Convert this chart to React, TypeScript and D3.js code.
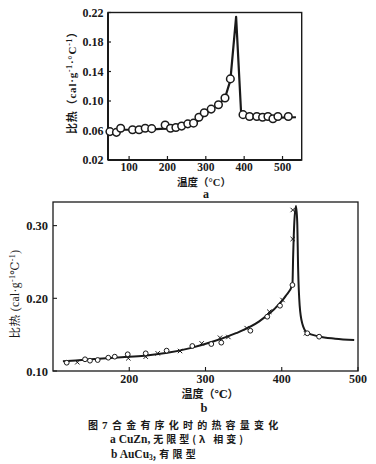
import React from "react";
import * as d3 from "d3";

// ---- Chart a : CuZn ----
const aXTicks = [100, 200, 300, 400, 500];
const aYTicks = [0.02, 0.06, 0.1, 0.14, 0.18, 0.22];
const aPointTemps = [50, 67, 78, 109, 126, 142, 159, 194, 208, 222, 237, 253, 268, 282, 296, 314, 333, 350, 364, 397, 414, 433, 448, 462, 475, 488, 515];
const aPointValues = [0.0585, 0.0575, 0.063, 0.061, 0.061, 0.063, 0.0625, 0.0675, 0.063, 0.064, 0.066, 0.069, 0.07, 0.078, 0.084, 0.089, 0.095, 0.104, 0.13, 0.0815, 0.079, 0.079, 0.078, 0.079, 0.076, 0.079, 0.079];
const aLineTemps = [45, 50, 67, 78, 110, 160, 194, 222, 240, 260, 275, 290, 310, 333, 350, 364, 379, 392, 397, 420, 470, 535];
const aLineValues = [0.058, 0.0585, 0.058, 0.061, 0.061, 0.0615, 0.0625, 0.063, 0.065, 0.068, 0.071, 0.078, 0.087, 0.095, 0.104, 0.128, 0.214, 0.084, 0.0815, 0.078, 0.077, 0.078];

// ---- Chart b : AuCu3 ----
const bXTicks = [200, 300, 400, 500];
const bYTicks = [0.1, 0.2, 0.3];
const bCircleTemps = [118, 142, 148.5, 158.6, 172.5, 181, 198, 221.6, 249, 282.7, 307.6, 320.7, 358.8, 381, 397.7, 414, 433.5, 449];
const bCircleValues = [0.1114, 0.1161, 0.1142, 0.1151, 0.1183, 0.1197, 0.123, 0.1243, 0.128, 0.1344, 0.1371, 0.139, 0.1554, 0.1747, 0.1898, 0.2183, 0.1519, 0.1472];
const bCrossTemps = [131.9, 198.8, 221.6, 237.3, 266.6, 295, 319, 330, 354, 383.7, 401, 414.4, 414.4, 431.8];
const bCrossValues = [0.112, 0.1175, 0.1197, 0.1243, 0.1275, 0.138, 0.1458, 0.1468, 0.159, 0.1816, 0.1977, 0.2816, 0.3215, 0.1519];
const bLineTemps = [113, 130, 160, 190, 220, 250, 280, 310, 340, 370, 390, 405, 414, 415, 416.5, 418.7, 420.3, 421.5, 423.5, 427, 433, 449, 470, 495];
const bLineValues = [0.1133, 0.1145, 0.117, 0.119, 0.121, 0.125, 0.1315, 0.1405, 0.152, 0.168, 0.185, 0.203, 0.219, 0.26, 0.305, 0.327, 0.305, 0.24, 0.19, 0.165, 0.153, 0.1475, 0.1445, 0.1425];

const SERIF = "'Liberation Serif', 'DejaVu Serif', serif";
const CJK = "'Noto Sans CJK SC', 'Liberation Serif', serif";
const INK = "#1a1a1a";

export default function App() {
  // chart a scales
  const ax = d3.scaleLinear().domain([45, 550]).range([108, 301.7]);
  const ay = d3.scaleLinear().domain([0.02, 0.22]).range([160, 12.5]);
  const aLine = d3.line<number>().x((d, i) => ax(aLineTemps[i])).y((d) => ay(d));

  // chart b scales
  const bx = d3.scaleLinear().domain([100, 500]).range([53, 358]);
  const by = d3.scaleLinear().domain([0.1, 0.3325]).range([371, 202]);
  const bLine = d3
    .line<number>()
    .x((d, i) => bx(bLineTemps[i]))
    .y((d) => by(d))
    .curve(d3.curveMonotoneX);

  return (
    <div style={{ position: "absolute", left: 0, top: 0 }}>
      <svg width={376} height={464} style={{ display: "block", background: "#fff" }}>
        {/* ===== chart a ===== */}
        <g>
          <rect x={108} y={12.5} width={301.7 - 108} height={160 - 12.5} fill="none" stroke={INK} strokeWidth={1.4} />
          <line x1={108} y1={12.5} x2={108} y2={160} stroke={INK} strokeWidth={2} />
          <line x1={108} y1={160} x2={301.7} y2={160} stroke={INK} strokeWidth={2} />
          {aXTicks.map((t) => (
            <g key={t}>
              <line x1={ax(t)} x2={ax(t)} y1={160} y2={156} stroke={INK} strokeWidth={1.2} />
              <text x={ax(t)} y={171} textAnchor="middle" fontFamily={SERIF} fontWeight="bold" fontSize={11.5} fill={INK}>
                {t}
              </text>
            </g>
          ))}
          {aYTicks.map((t) => (
            <g key={t}>
              <line x1={108} x2={111} y1={ay(t)} y2={ay(t)} stroke={INK} strokeWidth={1.2} />
              <text x={103.5} y={ay(t) + 4} textAnchor="end" fontFamily={SERIF} fontWeight="bold" fontSize={12} fill={INK}>
                {t.toFixed(2)}
              </text>
            </g>
          ))}
          <path d={aLine(aLineValues) || ""} fill="none" stroke={INK} strokeWidth={2.2} strokeLinejoin="round" />
          {aPointValues.map((v, i) => (
            <circle key={i} cx={ax(aPointTemps[i])} cy={ay(v)} r={3.8} fill="#fff" stroke={INK} strokeWidth={1.5} />
          ))}
          <text transform="translate(76,80) rotate(-90)" textAnchor="middle" fontFamily={CJK} fontWeight="bold" fontSize={11} letterSpacing={0.8} fill={INK}>
            <tspan>比热（</tspan>
            <tspan fontFamily={SERIF}>cal·g</tspan>
            <tspan fontFamily={SERIF} fontSize={7.5} dy={-4}>-1</tspan>
            <tspan fontFamily={SERIF} dy={4}>·°C</tspan>
            <tspan fontFamily={SERIF} fontSize={7.5} dy={-4}>-1</tspan>
            <tspan dy={4}>）</tspan>
          </text>
          <text x={204} y={185.5} textAnchor="middle" fontFamily={CJK} fontWeight="bold" fontSize={10.5} fill={INK}>
            温度（<tspan fontFamily={SERIF}>°C</tspan>）
          </text>
          <text x={206} y={198} textAnchor="middle" fontFamily={SERIF} fontWeight="bold" fontSize={12} fill={INK}>
            a
          </text>
        </g>

        {/* ===== chart b ===== */}
        <g>
          <rect x={53} y={202} width={358 - 53} height={371 - 202} fill="none" stroke={INK} strokeWidth={1.3} />
          {bXTicks.map((t) => (
            <g key={t}>
              <line x1={bx(t)} x2={bx(t)} y1={371} y2={367} stroke={INK} strokeWidth={1.1} />
              <text x={bx(t)} y={383} textAnchor="middle" fontFamily={SERIF} fontWeight="bold" fontSize={12} fill={INK}>
                {t}
              </text>
            </g>
          ))}
          {bYTicks.map((t) => (
            <g key={t}>
              <line x1={53} x2={57} y1={by(t)} y2={by(t)} stroke={INK} strokeWidth={1.1} />
              <text x={48} y={by(t) + 4.5} textAnchor="end" fontFamily={SERIF} fontWeight="bold" fontSize={12.5} fill={INK}>
                {t.toFixed(2)}
              </text>
            </g>
          ))}
          <path d={bLine(bLineValues) || ""} fill="none" stroke={INK} strokeWidth={2} strokeLinejoin="round" />
          {bCrossValues.map((v, i) => {
            const cx = bx(bCrossTemps[i]);
            const cy = by(v);
            const s = 2.2;
            return (
              <path key={i} d={`M${cx - s},${cy - s}L${cx + s},${cy + s}M${cx - s},${cy + s}L${cx + s},${cy - s}`} stroke={INK} strokeWidth={1} />
            );
          })}
          {bCircleValues.map((v, i) => (
            <circle key={i} cx={bx(bCircleTemps[i])} cy={by(v)} r={2.4} fill="#fff" stroke={INK} strokeWidth={1} />
          ))}
          <text transform="translate(19,294) rotate(-90)" textAnchor="middle" fontFamily={CJK} fontSize={11.5} letterSpacing={0.4} fill={INK}>
            <tspan>比热</tspan>
            <tspan fontFamily={SERIF}> (cal·g</tspan>
            <tspan fontFamily={SERIF} fontSize={8} dy={-4}>-1</tspan>
            <tspan fontFamily={SERIF} dy={4}>℃</tspan>
            <tspan fontFamily={SERIF} fontSize={8} dy={-4}>-1</tspan>
            <tspan fontFamily={SERIF} dy={4}>)</tspan>
          </text>
          <text x={210} y={398} textAnchor="middle" fontFamily={CJK} fontWeight="bold" fontSize={11} fill={INK}>
            温度（<tspan fontFamily={SERIF}>℃</tspan>）
          </text>
          <text x={204} y={412} textAnchor="middle" fontFamily={SERIF} fontWeight="bold" fontSize={12.5} fill={INK}>
            b
          </text>
        </g>

        {/* ===== caption ===== */}
        <text x={88} y={428.5} fontFamily={CJK} fontWeight="bold" fontSize={10} fill={INK}>
          图<tspan fontFamily={SERIF} fontSize={11} dx={4}>7</tspan>
        </text>
        <text x={112} y={428.5} fontFamily={CJK} fontWeight="bold" fontSize={10} letterSpacing={4.2} fill={INK}>
          合金有序化时的热容量变化
        </text>
        <text x={110} y={443} fontFamily={CJK} fontWeight="bold" fontSize={10} fill={INK}>
          <tspan fontFamily={SERIF} fontSize={11.5}>a CuZn, </tspan>
          <tspan letterSpacing={3}>无限型(λ 相变)</tspan>
        </text>
        <text x={111} y={457.5} fontFamily={CJK} fontWeight="bold" fontSize={10} fill={INK}>
          <tspan fontFamily={SERIF} fontSize={11.5}>b AuCu</tspan>
          <tspan fontFamily={SERIF} fontSize={7.5} dy={2}>3</tspan>
          <tspan dy={-2} letterSpacing={3.2}>,有限型</tspan>
        </text>
      </svg>
    </div>
  );
}
